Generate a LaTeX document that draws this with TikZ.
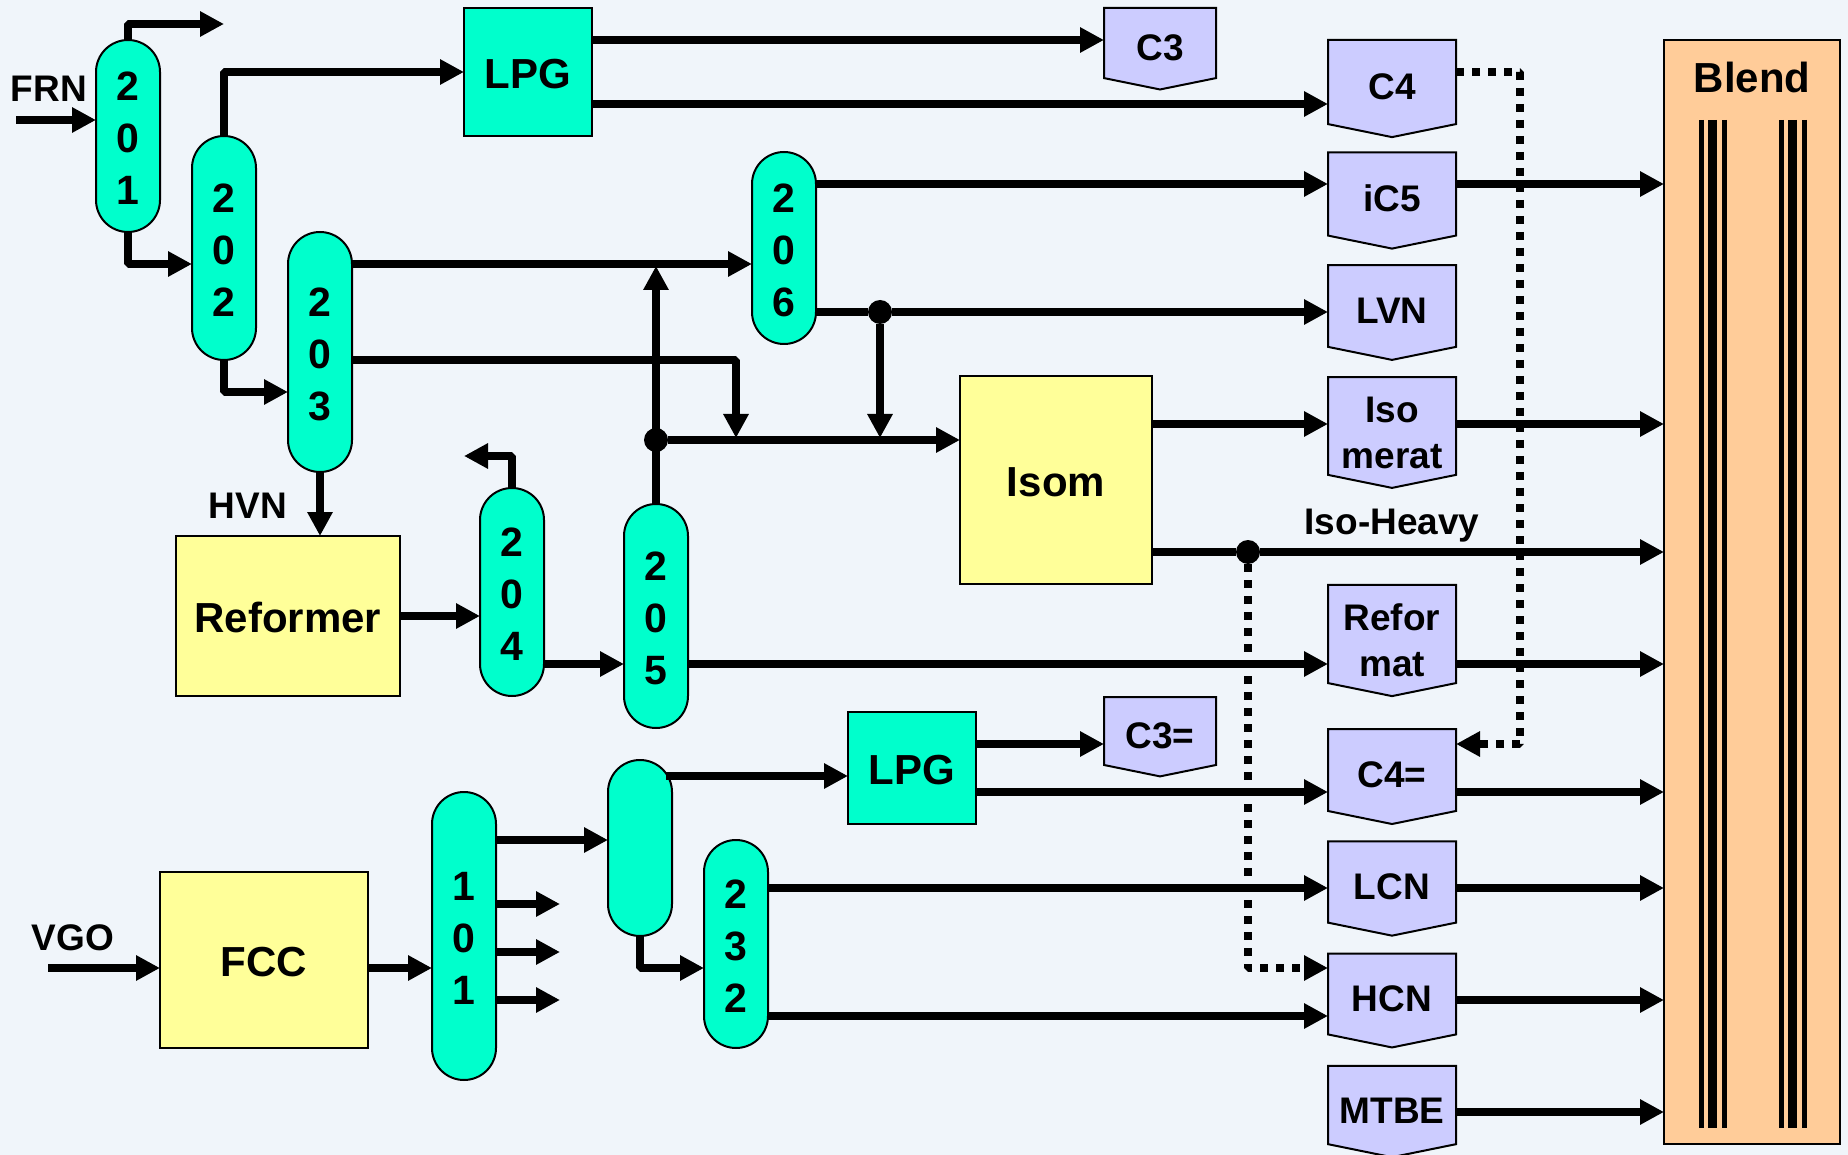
\documentclass[tikz,border=0pt]{standalone}
\usepackage{fontspec}
\setmainfont{Liberation Sans}
\usetikzlibrary{arrows.meta,shapes.symbols}
\definecolor{pagebg}{HTML}{F0F5FA}
\definecolor{towerfill}{HTML}{00FFCC}
\definecolor{unitfill}{HTML}{FFFF99}
\definecolor{poolfill}{HTML}{CCCCFF}
\definecolor{blendfill}{HTML}{FFCC99}
\begin{document}
\begin{tikzpicture}[x=1pt,y=-1pt,
  tower/.style={draw,fill=towerfill,line width=2pt,rectangle,rounded corners=32pt,minimum width=64pt,inner sep=0pt,outer sep=0pt,align=center,font=\bfseries\fontsize{41}{52}\selectfont,execute at begin node={\rule{0pt}{137pt}}},
  unit/.style={draw,fill=unitfill,line width=2pt,rectangle,inner sep=0pt,outer sep=0pt,font=\bfseries\fontsize{42}{48}\selectfont,execute at begin node={\rule{0pt}{33pt}}},
  lpg/.style={unit,fill=towerfill},
  pool/.style={draw,fill=poolfill,line width=2pt,signal,signal to=south,signal from=nowhere,signal pointer angle=157,inner sep=0pt,outer sep=0pt,minimum width=128pt,minimum height=89pt,align=center,font=\bfseries\fontsize{37}{46}\selectfont,execute at begin node={\rule{0pt}{36pt}}},
  tallpool/.style={pool,minimum height=108pt,execute at begin node={\rule{0pt}{85pt}}},
  smallpool/.style={pool,minimum width=112pt,minimum height=75pt},
  tag/.style={anchor=base,inner sep=0pt,font=\bfseries\fontsize{37}{45}\selectfont},
  junction/.style={circle,fill=black,inner sep=0pt,minimum size=24pt},
  stream/.style={line width=8pt,line join=bevel,-{Triangle[length=24pt,width=24pt]}},
  bridge/.style={stream,dash pattern=on 8pt off 8pt}]
\useasboundingbox (0,0) rectangle (1848,1155);
\fill[pagebg] (0,0) rectangle (1848,1155);

\node[tower,minimum height=192pt] (c201) at (128,136) {2\\0\\1};
\node[tower,minimum height=224pt] (c202) at (224,248) {2\\0\\2};
\node[tower,minimum height=240pt] (c203) at (320,352) {2\\0\\3};
\node[tower,minimum height=208pt] (c204) at (512,592) {2\\0\\4};
\node[tower,minimum height=224pt] (c205) at (656,616) {2\\0\\5};
\node[tower,minimum height=192pt] (c206) at (784,248) {2\\0\\6};
\node[tower,minimum height=288pt] (c101) at (464,936) {1\\0\\1};
\node[tower,minimum height=176pt] (c231) at (640,848) {};
\node[tower,minimum height=208pt] (c232) at (736,944) {2\\3\\2};

\node[lpg,minimum width=128pt,minimum height=128pt] (lpgA) at (528,72) {LPG};
\node[lpg,minimum width=128pt,minimum height=112pt] (lpgB) at (912,768) {LPG};
\node[unit,minimum width=224pt,minimum height=160pt] (reformer) at (288,616) {Reformer};
\node[unit,minimum width=192pt,minimum height=208pt] (isom) at (1056,480) {Isom};
\node[unit,minimum width=208pt,minimum height=176pt] (fcc) at (264,960) {FCC};

\node[smallpool] (C3) at (1160,43) {C3};
\node[smallpool] (C3e) at (1160,731) {C3=};
\node[pool] (C4) at (1392,82) {C4};
\node[pool] (iC5) at (1392,194) {iC5};
\node[pool] (LVN) at (1392,306) {LVN};
\node[tallpool] (isomerat) at (1392,426) {Iso\\merat};
\node[tallpool] (reformat) at (1392,634) {Refor\\mat};
\node[pool] (C4e) at (1392,770) {C4=};
\node[pool] (LCN) at (1392,882) {LCN};
\node[pool] (HCN) at (1392,994) {HCN};
\node[pool] (MTBE) at (1392,1105) {MTBE};

\node[draw,fill=blendfill,line width=2pt,rectangle,inner sep=0pt,outer sep=0pt,minimum width=176pt,minimum height=1104pt] (blend) at (1752,592) {};
\node[tag,font=\bfseries\fontsize{42}{48}\selectfont] (blendname) at (1752,93) {Blend};
\foreach \x in {1712,1792} {
  \draw[line width=9pt] (\x,120) -- (\x,1128);
  \draw[line width=5pt] (\x-11,120) -- (\x-11,1128);
  \draw[line width=5pt] (\x+12,120) -- (\x+12,1128);
}

\node[tag] (FRN) at (49,102) {FRN};
\node[tag] (HVN) at (248,518) {HVN};
\node[tag] (VGO) at (73,950) {VGO};
\node[tag] (isoheavy) at (1392,534) {Iso-Heavy};

\node[junction] (j205) at (656,440) {};
\node[junction] (j206) at (880,312) {};
\node[junction] (jheavy) at (1248,552) {};

\coordinate (feedFRN) at (16,120);
\coordinate (feedVGO) at (48,968);
\coordinate (top201) at (224,24);
\coordinate (top204) at (464,456);
\coordinate (side1) at (560,904);
\coordinate (side2) at (560,952);
\coordinate (side3) at (560,1000);
\coordinate (bendC4) at (1520,72);
\coordinate (bendC4e) at (1520,744);
\coordinate (bend203) at (736,360);
\coordinate (out231) at (666,776);

\draw[bridge] (jheavy) |- (HCN.west |- 0,968);
\draw[bridge] (C4.east |- bendC4) -- (bendC4) -- (bendC4e) -- (C4e.east |- bendC4e);

\draw[stream] (feedFRN) -- (c201.west |- feedFRN);
\draw[stream] (c201.north) |- (top201);
\draw[stream] (c201.south) |- (c202.west |- 0,264);
\draw[stream] (c202.north) |- (lpgA.west);
\draw[stream] (c202.south) |- (c203.west |- 0,392);
\draw[stream] (c203.south) -- (reformer.north -| c203.south);
\draw[stream] (c203.east |- 0,264) -- (c206.west |- 0,264);
\draw[stream] (c203.east |- bend203) -- (bend203) -- (bend203 |- 0,438);
\draw[stream] (lpgA.east |- 0,40) -- (C3.west |- 0,40);
\draw[stream] (lpgA.east |- 0,104) -- (C4.west |- 0,104);
\draw[stream] (reformer.east) -- (c204.west |- reformer.east);
\draw[stream] (c204.north) |- (top204);
\draw[stream] (c204.east |- 0,664) -- (c205.west |- 0,664);
\draw[stream] (c205.north) -- (c205.north |- 0,266);
\draw[stream] (j205) -- (isom.west |- j205);
\draw[stream] (c205.east |- 0,664) -- (reformat.west |- 0,664);
\draw[stream] (c206.east |- 0,184) -- (iC5.west |- 0,184);
\draw[line width=8pt] (c206.east |- j206) -- (j206);
\draw[stream] (j206) -- (LVN.west |- j206);
\draw[stream] (j206) -- (j206 |- 0,438);
\draw[stream] (isom.east |- 0,424) -- (isomerat.west |- 0,424);
\draw[line width=8pt] (isom.east |- jheavy) -- (jheavy);
\draw[stream] (jheavy) -- (blend.west |- jheavy);
\draw[stream] (feedVGO) -- (fcc.west |- feedVGO);
\draw[stream] (fcc.east |- 0,968) -- (c101.west |- 0,968);
\draw[stream] (c101.east |- 0,840) -- (c231.west |- 0,840);
\draw[stream] (c101.east |- side1) -- (side1);
\draw[stream] (c101.east |- side2) -- (side2);
\draw[stream] (c101.east |- side3) -- (side3);
\draw[stream] (out231) -- (lpgB.west |- out231);
\draw[stream] (c231.south) |- (c232.west |- 0,968);
\draw[stream] (lpgB.east |- 0,744) -- (C3e.west |- 0,744);
\draw[stream] (lpgB.east |- 0,792) -- (C4e.west |- 0,792);
\draw[stream] (c232.east |- 0,888) -- (LCN.west |- 0,888);
\draw[stream] (c232.east |- 0,1016) -- (HCN.west |- 0,1016);

\draw[stream] (iC5.east |- 0,184) -- (blend.west |- 0,184);
\draw[stream] (isomerat.east |- 0,424) -- (blend.west |- 0,424);
\draw[stream] (reformat.east |- 0,664) -- (blend.west |- 0,664);
\draw[stream] (C4e.east |- 0,792) -- (blend.west |- 0,792);
\draw[stream] (LCN.east |- 0,888) -- (blend.west |- 0,888);
\draw[stream] (HCN.east |- 0,1000) -- (blend.west |- 0,1000);
\draw[stream] (MTBE.east |- 0,1112) -- (blend.west |- 0,1112);
\end{tikzpicture}
\end{document}
